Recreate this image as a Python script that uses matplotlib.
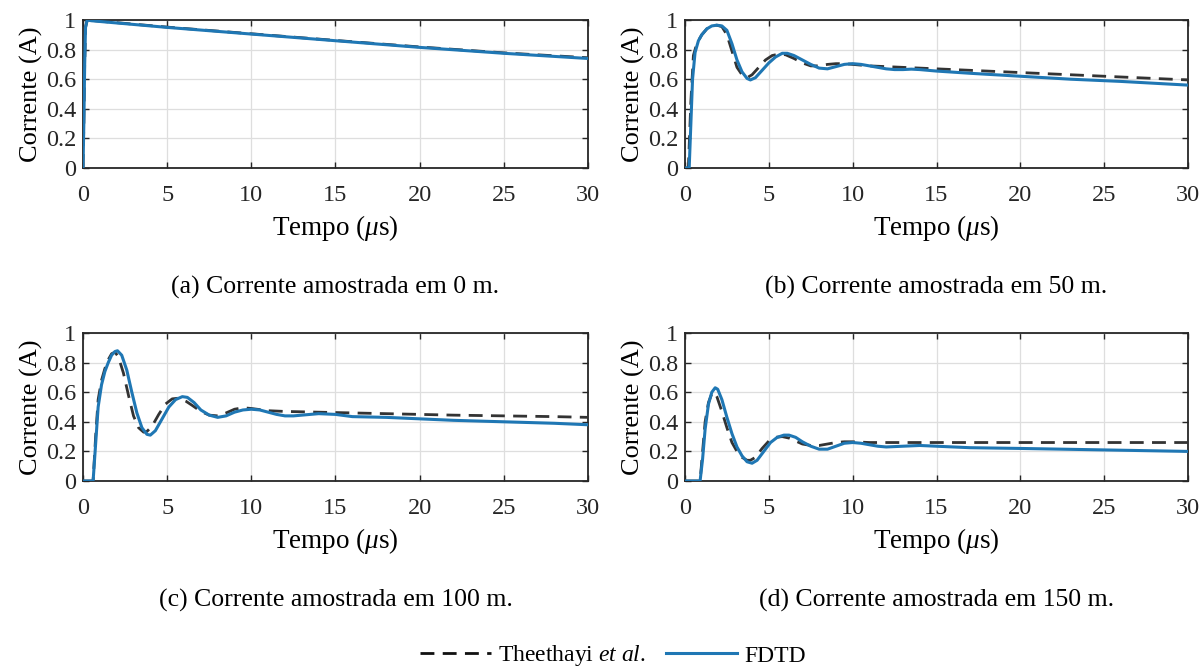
import matplotlib
matplotlib.use("Agg")
import matplotlib.pyplot as plt
from matplotlib.ticker import FormatStrFormatter
from matplotlib.lines import Line2D

plt.rcParams['font.family'] = ['Liberation Serif', 'DejaVu Serif']
plt.rcParams['mathtext.fontset'] = 'custom'
plt.rcParams['mathtext.rm'] = 'Liberation Serif'
plt.rcParams['mathtext.it'] = 'Liberation Serif:italic'

# ---------------- data ----------------
# (a) 0 m
t_fdtd_0 = [0, 0.05, 0.1, 0.15, 0.25, 0.5, 2, 5, 10, 15, 20, 25, 30]
i_fdtd_0 = [0, 0.3, 0.7, 0.95, 1.0, 0.995, 0.98, 0.95, 0.905, 0.86, 0.815, 0.775, 0.74]
t_thee_0 = [0, 0.05, 0.1, 0.15, 0.25, 0.5, 2, 5, 10, 15, 20, 25, 30]
i_thee_0 = [0, 0.3, 0.7, 0.95, 1.0, 0.997, 0.982, 0.952, 0.907, 0.862, 0.818, 0.778, 0.745]

# (b) 50 m
t_fdtd_50 = [0, 0.25, 0.35, 0.45, 0.6, 0.8, 1.0, 1.3, 1.6, 1.9, 2.2, 2.5, 2.8, 3.1, 3.4, 3.7,
             3.9, 4.2, 4.6, 5.0, 5.4, 5.8, 6.1, 6.5, 7.0, 7.5, 8.0, 8.5, 9.0, 9.5, 10.0, 10.5,
             11.0, 11.5, 12.0, 12.5, 13.0, 13.5, 14, 15, 17, 20, 23, 26, 30]
i_fdtd_50 = [0, 0, 0.3, 0.6, 0.78, 0.86, 0.9, 0.94, 0.96, 0.965, 0.96, 0.93, 0.84, 0.73, 0.65, 0.605,
             0.595, 0.61, 0.66, 0.71, 0.75, 0.775, 0.775, 0.76, 0.73, 0.70, 0.675, 0.67, 0.685, 0.70, 0.705, 0.70,
             0.69, 0.68, 0.67, 0.665, 0.665, 0.668, 0.665, 0.655, 0.64, 0.62, 0.60, 0.585, 0.56]
t_thee_50 = [0, 0.2, 0.35, 0.5, 0.7, 1.0, 1.3, 1.6, 1.9, 2.2, 2.5, 2.8, 3.1, 3.4, 3.7, 4.0, 4.4,
             4.8, 5.2, 5.6, 6.0, 6.5, 7.0, 7.5, 8.0, 8.5, 9.0, 9.5, 10, 11, 12, 14, 16, 18, 20,
             22, 24, 26, 28, 30]
i_thee_50 = [0, 0, 0.45, 0.76, 0.84, 0.9, 0.94, 0.96, 0.965, 0.955, 0.9, 0.79, 0.68, 0.63, 0.61, 0.63, 0.68,
             0.73, 0.76, 0.77, 0.765, 0.74, 0.71, 0.69, 0.69, 0.70, 0.705, 0.705, 0.70, 0.69, 0.685, 0.675, 0.665, 0.655, 0.645,
             0.635, 0.625, 0.615, 0.605, 0.595]

# (c) 100 m
t_fdtd_100 = [0, 0.6, 0.75, 0.9, 1.1, 1.3, 1.5, 1.7, 1.9, 2.05, 2.3, 2.6, 2.9, 3.2, 3.5, 3.8, 4.0,
              4.3, 4.7, 5.1, 5.5, 5.9, 6.2, 6.6, 7.0, 7.5, 8.0, 8.5, 9.0, 9.5, 10, 10.5, 11, 11.5,
              12, 12.5, 13, 14, 15, 16, 18, 20, 22, 25, 28, 30]
i_fdtd_100 = [0, 0, 0.25, 0.5, 0.65, 0.74, 0.8, 0.85, 0.875, 0.88, 0.85, 0.75, 0.6, 0.46, 0.36, 0.315, 0.31,
              0.34, 0.42, 0.5, 0.55, 0.57, 0.565, 0.53, 0.48, 0.445, 0.43, 0.44, 0.465, 0.48, 0.485, 0.48, 0.465, 0.45,
              0.44, 0.44, 0.445, 0.455, 0.45, 0.435, 0.43, 0.42, 0.41, 0.40, 0.39, 0.38]
t_thee_100 = [0, 0.6, 0.75, 0.9, 1.1, 1.3, 1.5, 1.7, 1.9, 2.1, 2.4, 2.7, 3.0, 3.3, 3.6, 3.8, 4.1,
              4.5, 4.9, 5.3, 5.7, 6.1, 6.5, 7.0, 7.5, 8.0, 8.5, 9.0, 9.5, 10, 11, 12, 14, 16, 18,
              20, 22, 25, 28, 30]
i_thee_100 = [0, 0, 0.3, 0.55, 0.68, 0.76, 0.82, 0.86, 0.87, 0.84, 0.73, 0.58, 0.44, 0.36, 0.33, 0.335, 0.37,
              0.45, 0.52, 0.555, 0.56, 0.54, 0.51, 0.47, 0.445, 0.44, 0.46, 0.485, 0.495, 0.49, 0.475, 0.47, 0.465, 0.46, 0.455,
              0.45, 0.445, 0.44, 0.435, 0.43]

# (d) 150 m
t_fdtd_150 = [0, 0.9, 1.05, 1.2, 1.4, 1.6, 1.8, 1.95, 2.2, 2.5, 2.8, 3.1, 3.4, 3.7, 4.0, 4.3, 4.7,
              5.1, 5.5, 5.9, 6.2, 6.6, 7.0, 7.5, 8.0, 8.5, 9.0, 9.5, 10, 10.5, 11, 11.5, 12, 13, 14,
              15, 17, 20, 25, 30]
i_fdtd_150 = [0, 0, 0.15, 0.35, 0.52, 0.6, 0.63, 0.62, 0.55, 0.43, 0.32, 0.23, 0.17, 0.13, 0.12, 0.14, 0.2,
              0.26, 0.295, 0.31, 0.31, 0.295, 0.265, 0.235, 0.215, 0.215, 0.235, 0.255, 0.26, 0.255, 0.245, 0.235, 0.23, 0.235, 0.24,
              0.235, 0.225, 0.22, 0.21, 0.2]
t_thee_150 = [0, 0.9, 1.05, 1.2, 1.4, 1.6, 1.75, 1.9, 2.2, 2.5, 2.8, 3.1, 3.4, 3.7, 3.9, 4.2, 4.6,
              5.0, 5.4, 5.8, 6.2, 6.6, 7.0, 7.5, 8.0, 8.5, 9.0, 9.5, 10, 11, 12, 15, 20, 25, 30]
i_thee_150 = [0, 0, 0.2, 0.4, 0.53, 0.59, 0.6, 0.57, 0.47, 0.36, 0.26, 0.2, 0.16, 0.14, 0.14, 0.16, 0.22,
              0.27, 0.295, 0.3, 0.29, 0.27, 0.25, 0.24, 0.24, 0.25, 0.26, 0.265, 0.265, 0.26, 0.26, 0.26, 0.26, 0.26, 0.26]

captions = ["(a) Corrente amostrada em 0 m.", "(b) Corrente amostrada em 50 m.",
            "(c) Corrente amostrada em 100 m.", "(d) Corrente amostrada em 150 m."]
x_ticks = [0, 5, 10, 15, 20, 25, 30]
y_ticks = [0, 0.2, 0.4, 0.6, 0.8, 1]
legend_labels = [r"Theethayi $\mathit{et\ al.}$", "FDTD"]

panels = [
    (t_thee_0, i_thee_0, t_fdtd_0, i_fdtd_0),
    (t_thee_50, i_thee_50, t_fdtd_50, i_fdtd_50),
    (t_thee_100, i_thee_100, t_fdtd_100, i_fdtd_100),
    (t_thee_150, i_thee_150, t_fdtd_150, i_fdtd_150),
]

# ---------------- figure ----------------
W, H = 1204, 671
fig = plt.figure(figsize=(W / 100, H / 100), dpi=100)

blue = '#1f77b4'
dark = '#333333'

lefts = [83, 685, 83, 685]
widths = [505, 503, 505, 503]
tops = [20, 20, 333, 333]
ax_h = 148

for k, (tt, it, tf, fi) in enumerate(panels):
    l, w, tp = lefts[k], widths[k], tops[k]
    ax = fig.add_axes([l / W, 1 - (tp + ax_h) / H, w / W, ax_h / H])
    ax.plot(tt, it, color=dark, lw=2.0, dashes=(5, 3), zorder=3)
    ax.plot(tf, fi, color=blue, lw=2.2, zorder=4)
    ax.set_xlim(0, 30)
    ax.set_ylim(0, 1)
    ax.set_xticks(x_ticks)
    ax.set_yticks(y_ticks)
    ax.yaxis.set_major_formatter(FormatStrFormatter('%g'))
    ax.grid(True, color='#dedede', lw=0.9)
    ax.set_axisbelow(True)
    ax.tick_params(direction='in', top=True, right=True, length=4, width=1.0,
                   labelsize=17.5, pad=5, colors='#262626')
    ax.tick_params(axis='x', pad=12)
    for s in ax.spines.values():
        s.set_linewidth(1.3)
        s.set_color('#262626')
    ax.set_xlabel(r"Tempo ($\mu$s)", fontsize=19.5, labelpad=5)
    ax.set_ylabel("Corrente (A)", fontsize=19, labelpad=2)
    cx = (l + w / 2) / W
    cy = 1 - (tp + ax_h + 119) / H
    fig.text(cx, cy, captions[k], ha='center', va='center', fontsize=18.5)

handles = [Line2D([], [], color='#111111', lw=2.0, dashes=(5, 3)),
           Line2D([], [], color=blue, lw=2.2)]
fig.legend(handles, legend_labels, loc='center', bbox_to_anchor=(613 / W, 1 - 656 / H),
           ncol=2, frameon=False, fontsize=17, handlelength=3.0, columnspacing=0.85,
           handletextpad=0.3, borderpad=0.2)

fig.savefig("out.png", dpi=100)
